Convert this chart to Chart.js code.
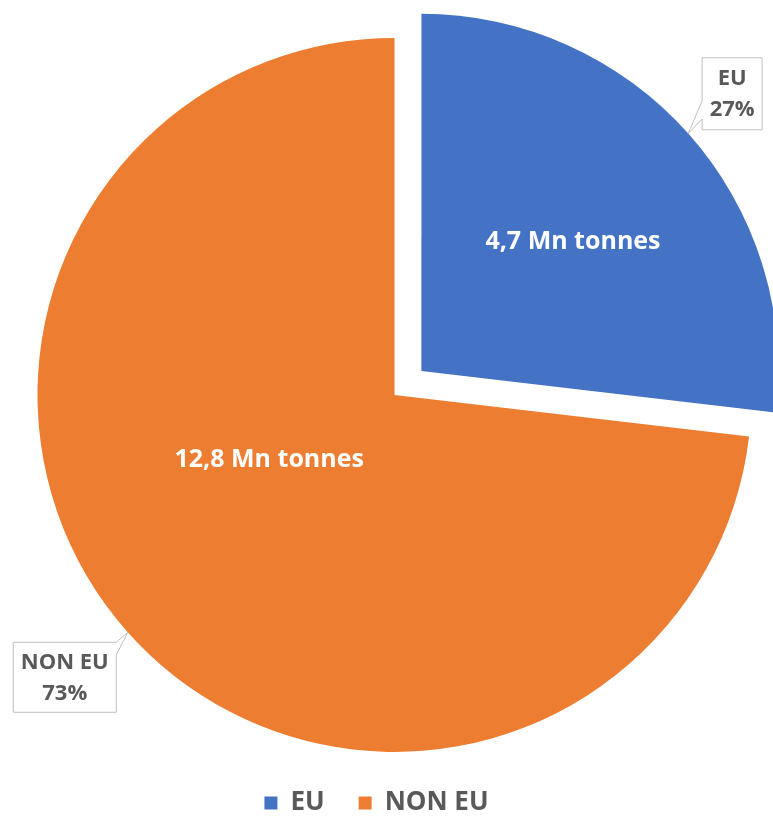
<!DOCTYPE html>
<html>
<head>
<meta charset="utf-8">
<script src="https://cdn.jsdelivr.net/npm/chart.js@4/dist/chart.umd.min.js"></script>
<style>
  html, body { margin: 0; padding: 0; background: #fff; }
  #wrap { width: 773px; height: 816px; }
</style>
</head>
<body>
<div id="wrap"><canvas id="pieChart" width="773" height="816"></canvas></div>
<script>
// Production split, million tonnes
const regions = ['EU', 'NON EU'];
const tonnes = [4.7, 12.8];

const total = tonnes.reduce((a, b) => a + b, 0);
const amountText = (v) => v.toFixed(1).replace('.', ',') + ' Mn tonnes';
const percentText = (v) => Math.round(v / total * 100) + '%';

// Draws the amount inside each slice and a callout box with name + share
const sliceLabels = {
    id: 'sliceLabels',
    afterLayout(chart, args, opts) {
        // legend sits a little left of the pie centre
        if (chart.legend) {
            chart.legend.left += opts.legendShift;
            chart.legend.right += opts.legendShift;
        }
    },
    afterDatasetsDraw(chart, args, opts) {
        const ctx = chart.ctx;
        const meta = chart.getDatasetMeta(0);

        meta.data.forEach((arc, i) => {
            const p = arc.getProps(['x', 'y', 'startAngle', 'endAngle', 'outerRadius'], true);
            const mid = (p.startAngle + p.endAngle) / 2;
            // Chart.js v4 moves an exploded arc by offset / 4
            const shift = (arc.options.offset || 0) / 4;
            const cx = p.x + Math.cos(mid) * shift;
            const cy = p.y + Math.sin(mid) * shift;

            ctx.save();
            ctx.textAlign = 'center';
            ctx.textBaseline = 'middle';

            // amount inside the slice
            const inside = opts.inside[i];
            const a = mid + inside.turn;
            const r = p.outerRadius * inside.frac;
            ctx.font = 'bold 25px "Open Sans"';
            ctx.fillStyle = '#ffffff';
            ctx.fillText(amountText(tonnes[i]), cx + Math.cos(a) * r, cy + Math.sin(a) * r);

            // callout box pointing at the middle of the outer edge
            const tipX = cx + Math.cos(mid) * p.outerRadius;
            const tipY = cy + Math.sin(mid) * p.outerRadius;
            const c = opts.callouts[i];
            const bx = tipX + c.dx - c.w / 2;
            const by = tipY + c.dy - c.h / 2;

            ctx.beginPath();
            if (c.side === 'left') {
                ctx.moveTo(bx, by);
                ctx.lineTo(bx + c.w, by);
                ctx.lineTo(bx + c.w, by + c.h);
                ctx.lineTo(bx, by + c.h);
                ctx.lineTo(bx, by + c.t1 * c.h);
                ctx.lineTo(tipX, tipY);
                ctx.lineTo(bx, by + c.t0 * c.h);
            } else {
                ctx.moveTo(bx, by);
                ctx.lineTo(bx + c.w, by + c.t0 * c.h);
                ctx.lineTo(tipX, tipY);
                ctx.lineTo(bx + c.w, by + c.t1 * c.h);
                ctx.lineTo(bx + c.w, by + c.h);
                ctx.lineTo(bx, by + c.h);
            }
            ctx.closePath();
            ctx.fillStyle = '#ffffff';
            ctx.fill();
            ctx.strokeStyle = '#BFBFBF';
            ctx.lineWidth = 1;
            ctx.stroke();

            ctx.font = 'bold 22px "Open Sans"';
            ctx.fillStyle = '#595959';
            const tx = bx + c.w / 2;
            const ty = by + c.h / 2;
            ctx.fillText(regions[i], tx, ty - 15);
            ctx.fillText(percentText(tonnes[i]), tx, ty + 16);
            ctx.restore();
        });
    }
};

const ctx = document.getElementById('pieChart');

new Chart(ctx, {
    type: 'pie',
    data: {
        labels: regions,
        datasets: [{
            data: tonnes,
            backgroundColor: ['#4472C4', '#ED7D31'],
            borderWidth: 0,
            offset: [144, 0],
            hoverOffset: 0,
            radius: 357,
            clip: false
        }]
    },
    plugins: [sliceLabels],
    options: {
        responsive: false,
        animation: false,
        events: [],
        layout: {
            padding: { left: 16, right: 0, top: 34, bottom: -10 }
        },
        plugins: {
            tooltip: { enabled: false },
            legend: {
                position: 'bottom',
                labels: {
                    color: '#595959',
                    font: { family: 'Open Sans', size: 26, weight: 'bold' },
                    boxWidth: 13,
                    boxHeight: 13,
                    padding: 34
                }
            },
            sliceLabels: {
                legendShift: -18,
                inside: [
                    { frac: 0.557, turn: 0.023 },
                    { frac: 0.395, turn: 0.25 }
                ],
                callouts: [
                    { dx: 44, dy: -40, w: 60, h: 72, side: 'left', t0: 0.6, t1: 0.85 },
                    { dx: -63, dy: 45, w: 103, h: 70, side: 'right', t0: 0, t1: 0.18 }
                ]
            }
        }
    }
});
</script>
</body>
</html>
